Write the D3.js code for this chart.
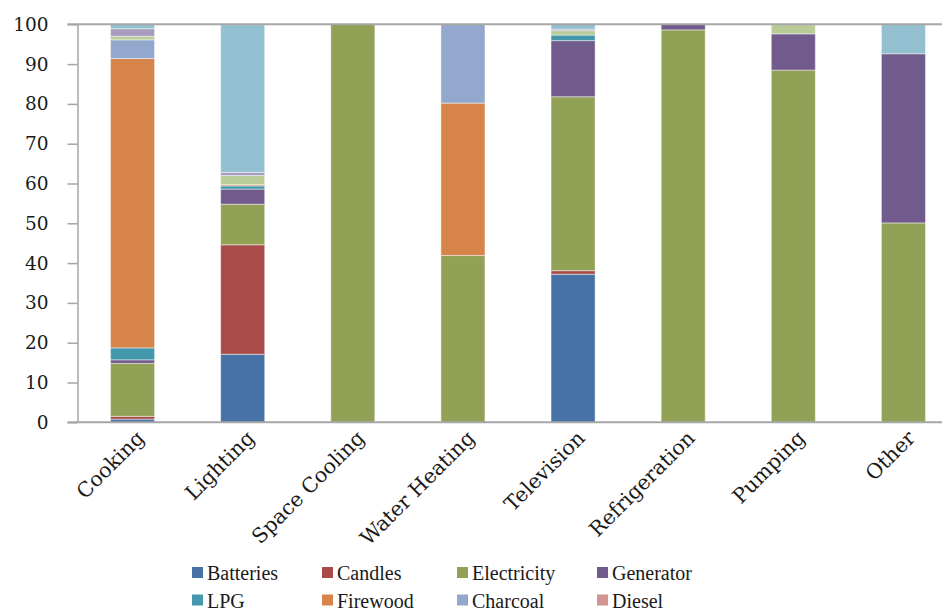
<!DOCTYPE html>
<html>
<head>
<meta charset="utf-8">
<script src="https://cdn.jsdelivr.net/npm/d3@7"></script>
<style>
  html, body { margin: 0; padding: 0; background: #fff; }
  svg { display: block; }
</style>
</head>
<body>
<svg id="chart" width="942" height="611"></svg>
<script>
// ---- data ----
const categories = ["Cooking", "Lighting", "Space Cooling", "Water Heating", "Television", "Refrigeration", "Pumping", "Other"];
const seriesNames = ["Batteries", "Candles", "Electricity", "Generator", "LPG", "Firewood", "Charcoal", "Diesel", "Kerosene", "Solar", "Other"];
const batteries   = [0.8, 17.1, 0,   0,    37.2, 0,    0,    0];
const candles     = [0.7, 27.5, 0,   0,    0.9,  0,    0,    0];
const electricity = [13.3, 10.2, 100, 41.9, 43.7, 98.6, 88.5, 50.1];
const generator   = [0.9, 3.8,  0,   0,    14.1, 1.4,  9.1,  42.5];
const lpg         = [3.0, 0.8,  0,   0,    1.4,  0,    0,    0];
const firewood    = [72.7, 0.3, 0,   38.3, 0,    0,    0,    0];
const charcoal    = [4.7, 0,    0,   19.8, 0,    0,    0,    0];
const diesel      = [0,   0,    0,   0,    0,    0,    0,    0];
const kerosene    = [0.9, 2.3,  0,   0,    1.1,  0,    2.4,  0];
const solar       = [1.9, 0.8,  0,   0,    0.4,  0,    0,    0];
const otherSrc    = [1.1, 37.1, 0,   0,    1.2,  0,    0,    7.4];
const yTicks = [0, 10, 20, 30, 40, 50, 60, 70, 80, 90, 100];
const legendCount = 8; // legend entries visible in the picture

const seriesValues = [batteries, candles, electricity, generator, lpg, firewood, charcoal, diesel, kerosene, solar, otherSrc];
const colors = ["#4672a5", "#a94b49", "#91a257", "#715a8c", "#4598ac", "#d7844a", "#93a8cc", "#d29594", "#b9cc98", "#a79cbf", "#92c0d1"];

// ---- layout ----
const W = 942, H = 611;
const axisX = 77.5, yTop = 24.3, yBottom = 422.3;
const legendCols = [192, 322, 457, 597];
const svg = d3.select("#chart");
const axisFont = "'DejaVu Serif', serif";
const legendFont = "'Liberation Serif', 'Times New Roman', serif";

const x = d3.scaleBand().domain(categories).range([axisX, 958.5]).paddingInner(0.6).paddingOuter(0.3);
const y = d3.scaleLinear().domain([0, 100]).range([yBottom, yTop]);
const color = d3.scaleOrdinal().domain(seriesNames).range(colors);

const table = categories.map((c, i) => {
  const row = { category: c };
  seriesNames.forEach((s, j) => row[s] = seriesValues[j][i]);
  return row;
});
const stacked = d3.stack().keys(seriesNames)(table);

// bars
svg.append("g").selectAll("g").data(stacked).join("g")
  .attr("fill", d => color(d.key))
  .selectAll("rect").data(d => d.filter(p => p[1] - p[0] > 0)).join("rect")
  .attr("x", d => x(d.data.category))
  .attr("width", x.bandwidth())
  .attr("y", d => y(d[1]))
  .attr("height", d => y(d[0]) - y(d[1]))
  .attr("stroke", "#ffffff")
  .attr("stroke-opacity", 0.45)
  .attr("stroke-width", 1);

// horizontal lines at 0 and 100
svg.append("g").selectAll("line").data([0, 100]).join("line")
  .attr("x1", axisX - 10).attr("x2", W)
  .attr("y1", d => y(d)).attr("y2", d => y(d))
  .attr("stroke", "#a6a6a6").attr("stroke-width", 2);

// y axis
const yAxis = svg.append("g")
  .attr("transform", `translate(${axisX},0)`)
  .call(d3.axisLeft(y).tickValues(yTicks).tickSize(10).tickPadding(19).tickSizeOuter(0));
yAxis.select(".domain").attr("stroke", "#a6a6a6").attr("stroke-width", 1.5);
yAxis.selectAll(".tick line").attr("stroke", "#a6a6a6").attr("stroke-width", 1.5);
yAxis.selectAll(".tick text")
  .attr("font-family", axisFont).attr("font-size", 18.5).attr("fill", "#1a1a1a");

// x axis labels
const xAxis = svg.append("g")
  .attr("transform", `translate(0,${yBottom})`)
  .call(d3.axisBottom(x).tickSize(0));
xAxis.select(".domain").remove();
xAxis.selectAll(".tick text")
  .attr("font-family", axisFont).attr("font-size", 20.5).attr("fill", "#1a1a1a")
  .attr("text-anchor", "end")
  .attr("x", 0).attr("y", 0).attr("dy", 0)
  .attr("transform", "translate(13,17) rotate(-45)");

// legend
const legendItems = seriesNames.slice(0, legendCount);
const legend = svg.append("g").attr("font-family", legendFont).attr("font-size", 20).attr("fill", "#1a1a1a");
const lg = legend.selectAll("g").data(legendItems).join("g")
  .attr("transform", (d, i) => `translate(${legendCols[i % 4]},${580 + Math.floor(i / 4) * 27.5})`);
lg.append("rect").attr("x", 0).attr("y", -13).attr("width", 11).attr("height", 11).attr("fill", d => color(d));
lg.append("text").attr("x", 15).attr("y", 0).text(d => d);
</script>
</body>
</html>
